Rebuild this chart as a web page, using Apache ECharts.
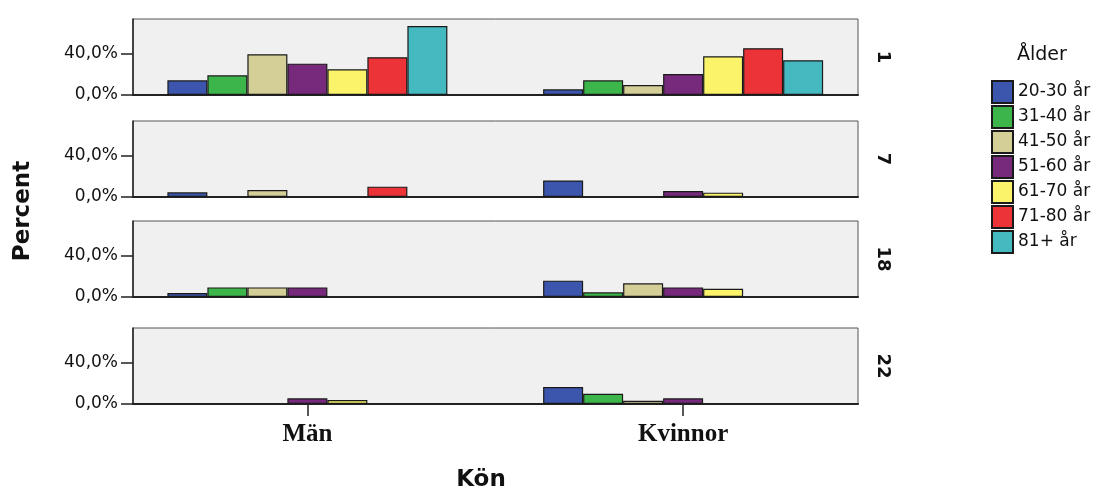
<!DOCTYPE html>
<html>
<head>
<meta charset="utf-8">
<script src="https://cdn.jsdelivr.net/npm/echarts@6/dist/echarts.min.js"></script>
<style>html,body{margin:0;padding:0;background:#fff}#chart{width:1099px;height:493px}</style>
</head>
<body>
<div id="chart"></div>
<script>
// ---- data ----
const categories = ['Män', 'Kvinnor'];
const ageGroups = ['20-30 år', '31-40 år', '41-50 år', '51-60 år', '61-70 år', '71-80 år', '81+ år'];
const panelLabels = ['1', '7', '18', '22'];
const yTickValues = [0, 40];
// values per panel, one entry per age group (null = no bar)
const p1Man = [14.2, 19.0, 39.4, 30.3, 24.9, 36.5, 66.8];
const p1Kvinnor = [5.5, 14.2, 9.7, 20.3, 37.5, 45.2, 33.6];
const p7Man = [4.5, null, 6.7, null, null, 10.0, null];
const p7Kvinnor = [16.0, null, null, 5.8, 4.2, null, null];
const p18Man = [3.8, 9.3, 9.3, 9.3, null, null, null];
const p18Kvinnor = [15.8, 4.5, 13.2, 9.3, 8.0, null, null];
const p22Man = [null, null, null, 5.5, 3.9, null, null];
const p22Kvinnor = [16.4, 9.8, 3.2, 5.5, null, null, null];

const panelMan = [p1Man, p7Man, p18Man, p22Man];
const panelKvinnor = [p1Kvinnor, p7Kvinnor, p18Kvinnor, p22Kvinnor];

// ---- styles / layout ----
const colors = ['#3d56ad', '#3cb64a', '#d4ce97', '#772a7b', '#fbf46b', '#eb3338', '#45b9c0'];
const panelTops = [19, 121, 221, 328];
const panelH = 76;
const frameLeft = 133, frameRight = 1099 - 858;
const dataLeft = 119.5, dataRight = 1099 - 871;
const yMax = 73.5;
const sans = 'DejaVu Sans';

const grid = [], xAxis = [], yAxis = [], series = [];
panelTops.forEach((top, p) => {
  const last = p === panelTops.length - 1;
  // frame grid
  grid.push({ left: frameLeft, right: frameRight, top: top, height: panelH, show: true,
    backgroundColor: '#f0f0f0', borderColor: '#555', borderWidth: 1 });
  const fg = grid.length - 1;
  // data grid
  grid.push({ left: dataLeft, right: dataRight, top: top, height: panelH, show: false });
  const dg = grid.length - 1;

  xAxis.push({ type: 'value', gridIndex: fg, min: 0, max: 1, show: true,
    axisLine: { show: true, lineStyle: { color: '#222', width: 2 } },
    axisTick: { show: false }, axisLabel: { show: false }, splitLine: { show: false } });
  xAxis.push({ type: 'category', gridIndex: dg, data: categories,
    axisLine: { show: false },
    axisTick: { show: last, alignWithLabel: true, length: 12, lineStyle: { color: '#222', width: 1.5 } },
    axisLabel: { show: last, margin: 18, fontFamily: 'Liberation Serif', fontWeight: 'bold', fontSize: 25, color: '#111' },
    splitLine: { show: false } });

  yAxis.push({ type: 'value', gridIndex: fg, min: 0, max: yMax, position: 'left',
    axisLine: { show: true, lineStyle: { color: '#222', width: 1.5 } },
    axisTick: { show: true, length: 12, customValues: yTickValues, lineStyle: { color: '#222', width: 1.5 } },
    axisLabel: { show: true, margin: 15, customValues: yTickValues, fontFamily: sans, fontSize: 17, color: '#111',
      formatter: v => v.toFixed(1).replace('.', ',') + '%' },
    splitLine: { show: false } });
  yAxis.push({ type: 'value', gridIndex: fg, min: 0, max: yMax, position: 'right',
    name: panelLabels[p], nameLocation: 'middle', nameRotate: -90, nameGap: 16,
    nameTextStyle: { fontFamily: sans, fontWeight: 'bold', fontSize: 18, color: '#111' },
    axisLine: { show: false }, axisTick: { show: false }, axisLabel: { show: false }, splitLine: { show: false } });
  const dy = yAxis.length;
  yAxis.push({ type: 'value', gridIndex: dg, min: 0, max: yMax, show: false, splitLine: { show: false } });

  const dxIndex = xAxis.length - 1;
  ageGroups.forEach((name, a) => {
    series.push({
      type: 'bar', name: name, xAxisIndex: dxIndex, yAxisIndex: dy,
      data: [panelMan[p][a], panelKvinnor[p][a]],
      barWidth: 40, barGap: '0%',
      itemStyle: { color: colors[a], borderColor: '#1a1a1a', borderWidth: 1.2 },
      emphasis: { disabled: true }, animation: false
    });
  });
});

const chart = echarts.init(document.getElementById('chart'), null, { renderer: 'canvas' });
chart.setOption({
  backgroundColor: '#ffffff',
  animation: false,
  title: { text: 'Ålder', left: 1017, top: 46, padding: 0,
    textStyle: { fontFamily: sans, fontWeight: 'normal', fontSize: 19, color: '#111' } },
  legend: {
    data: ageGroups, orient: 'vertical', left: 991, top: 80, padding: 0,
    icon: 'rect', itemWidth: 21, itemHeight: 22, itemGap: 1,
    textStyle: { fontFamily: sans, fontSize: 17, color: '#111' },
    selectedMode: false
  },
  grid: grid, xAxis: xAxis, yAxis: yAxis, series: series,
  graphic: [
    { type: 'text', x: 23, y: 211, rotation: Math.PI / 2,
      style: { text: 'Percent', fontFamily: sans, fontWeight: 'bold', fontSize: 23, fill: '#111', align: 'center', verticalAlign: 'middle' } },
    { type: 'text', x: 481, y: 480,
      style: { text: 'Kön', fontFamily: sans, fontWeight: 'bold', fontSize: 23, fill: '#111', align: 'center', verticalAlign: 'middle' } }
  ]
});
</script>
</body>
</html>
